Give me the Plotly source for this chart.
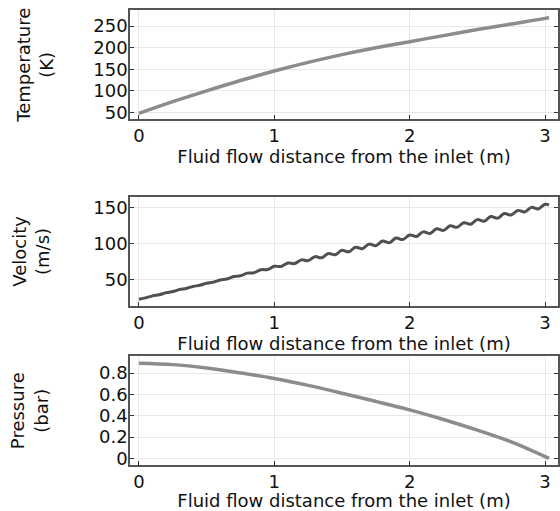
import plotly.graph_objects as go

# fluid flow distance from the inlet (m)
temp_x = [0, 0.25, 0.5, 0.75, 1.0, 1.25, 1.5, 1.75, 2.0, 2.25, 2.5, 2.75, 3.0, 3.03]
temp_k = [48, 75, 100, 124, 146, 166, 184, 200, 214, 228, 242, 255, 268, 270]

vel_x = [0, 0.05, 0.1, 0.15, 0.2, 0.25, 0.3, 0.35, 0.4, 0.45,
         0.5, 0.55, 0.6, 0.65, 0.7, 0.75, 0.8, 0.85, 0.9, 0.95,
         1.0, 1.05, 1.1, 1.15, 1.2, 1.25, 1.3, 1.35, 1.4, 1.45,
         1.5, 1.55, 1.6, 1.65, 1.7, 1.75, 1.8, 1.85, 1.9, 1.95,
         2.0, 2.05, 2.1, 2.15, 2.2, 2.25, 2.3, 2.35, 2.4, 2.45,
         2.5, 2.55, 2.6, 2.65, 2.7, 2.75, 2.8, 2.85, 2.9, 2.95,
         3.0, 3.03]
vel_ms = [22.0, 23.9, 26.7, 28.3, 31.1, 32.7, 35.5, 37.1, 39.9, 41.5,
          44.3, 46.0, 48.9, 50.4, 53.8, 54.8, 58.6, 59.2, 63.4, 63.6,
          68.2, 67.9, 72.7, 72.0, 77.2, 76.1, 81.7, 80.2, 86.2, 84.3,
          90.7, 88.5, 95.0, 92.8, 99.3, 97.1, 103.6, 101.4, 107.9, 105.7,
          112.2, 110.0, 116.5, 114.3, 120.8, 118.6, 125.1, 122.9, 129.4, 127.2,
          133.7, 131.5, 138.0, 135.8, 142.3, 140.1, 146.6, 144.4, 150.9, 148.7,
          155.2, 154.3]

pres_x = [0, 0.25, 0.5, 0.75, 1.0, 1.25, 1.5, 1.75, 2.0, 2.25, 2.5, 2.75, 3.03]
pres_bar = [0.893, 0.88, 0.848, 0.802, 0.75, 0.685, 0.612, 0.535, 0.455, 0.365, 0.265, 0.155, 0.0]

x_title = 'Fluid flow distance from the inlet (m)'
font = dict(family='DejaVu Sans', size=18, color='#111')

fig = go.Figure()
fig.add_trace(go.Scatter(x=temp_x, y=temp_k, mode='lines', line=dict(color='#8c8c8c', width=3.5, shape='spline'),
                         xaxis='x', yaxis='y'))
fig.add_trace(go.Scatter(x=vel_x, y=vel_ms, mode='lines', line=dict(color='#505050', width=3, shape='spline'),
                         xaxis='x2', yaxis='y2'))
fig.add_trace(go.Scatter(x=pres_x, y=pres_bar, mode='lines', line=dict(color='#8c8c8c', width=3.5, shape='spline'),
                         xaxis='x3', yaxis='y3'))

common_x = dict(range=[-0.066, 3.096], tickvals=[0, 1, 2, 3], showgrid=True, gridcolor='#e8e8e8',
                showline=True, linecolor='#555', linewidth=1.5, mirror=True,
                ticks='inside', ticklen=5, tickcolor='#333', zeroline=False,
                ticklabelstandoff=-1,
                title=dict(text=x_title, font=font, standoff=0), tickfont=font)
common_y = dict(showgrid=True, gridcolor='#e8e8e8', showline=True, linecolor='#555', linewidth=1.5,
                mirror='ticks', ticks='inside', ticklen=4, tickcolor='#333', zeroline=False,
                tickfont=font, ticklabelstandoff=-3)

fig.update_layout(
    width=560, height=511,
    margin=dict(l=130, r=0, t=0, b=0),
    paper_bgcolor='white', plot_bgcolor='white',
    showlegend=False, font=font,
    xaxis=dict(common_x, domain=[0, 1], anchor='y'),
    yaxis=dict(common_y, domain=[0.765, 0.980], anchor='x', range=[34, 287],
               tickvals=[50, 100, 150, 200, 250],
               title=dict(text='Temperature<br>(K)', font=font, standoff=35)),
    xaxis2=dict(common_x, domain=[0, 1], anchor='y2'),
    yaxis2=dict(common_y, domain=[0.397, 0.613], anchor='x2', range=[12, 166],
                tickvals=[50, 100, 150],
                title=dict(text='Velocity<br>(m/s)', font=font, standoff=39)),
    xaxis3=dict(common_x, domain=[0, 1], anchor='y3'),
    yaxis3=dict(common_y, domain=[0.084, 0.299], anchor='x3', range=[-0.065, 0.96],
                tickvals=[0, 0.2, 0.4, 0.6, 0.8], ticktext=['0', '0.2', '0.4', '0.6', '0.8'],
                title=dict(text='Pressure<br>(bar)', font=font, standoff=46)),
)

fig.write_html('out.html', config={'displayModeBar': False},
               post_script="document.body.style.margin='0';")
